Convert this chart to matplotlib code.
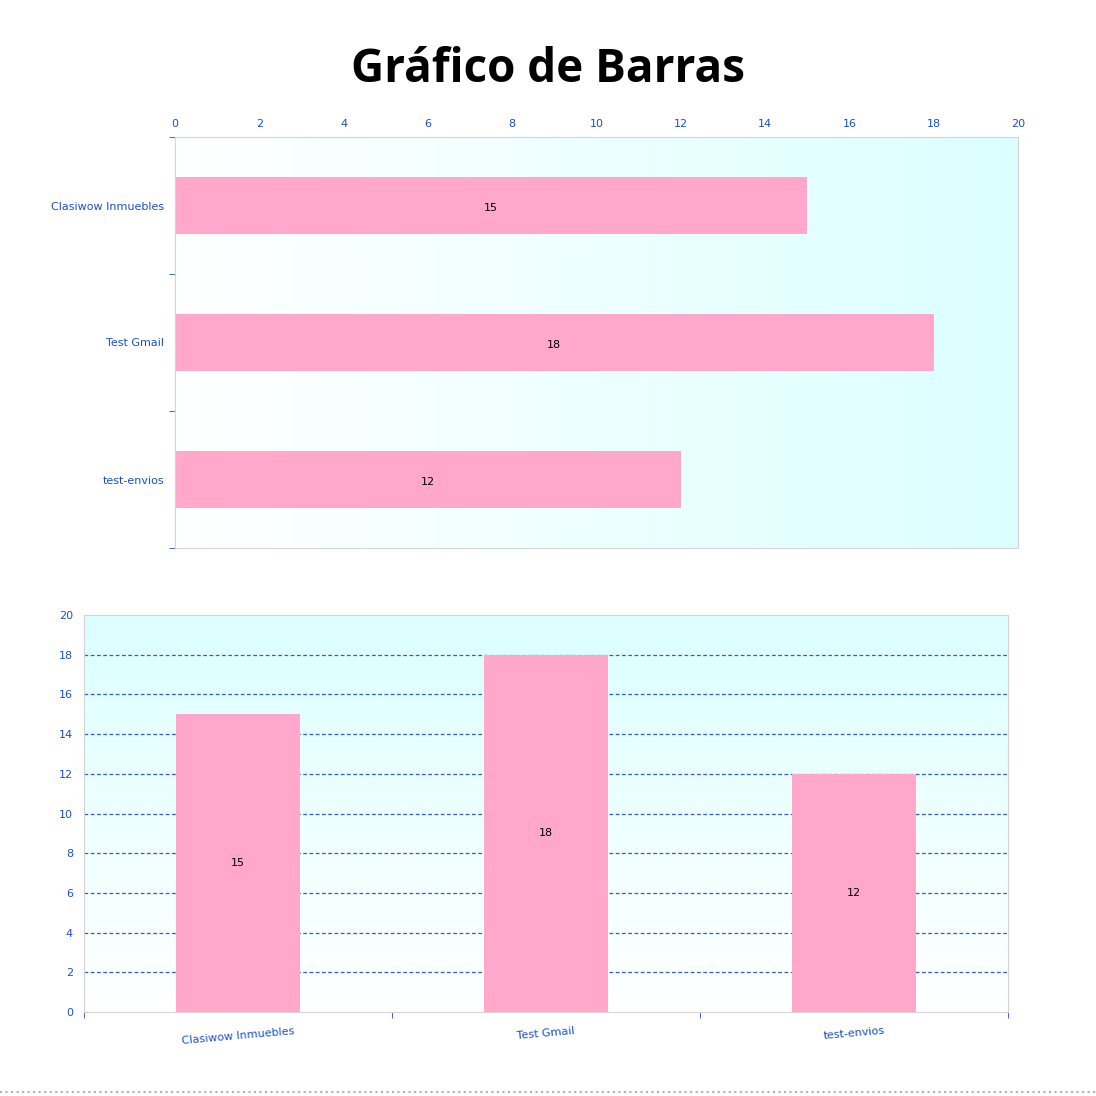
import numpy as np
import matplotlib
matplotlib.use("Agg")
from matplotlib import pyplot as plt

categories = ["Clasiwow Inmuebles", "Test Gmail", "test-envios"]
values = [15, 18, 12]
value_ticks = [0, 2, 4, 6, 8, 10, 12, 14, 16, 18, 20]

bar_color = "#ffa8cc"
tick_color = "#1a4fd0"
spine_color = "#d4d4d4"


def gradient(ax, horizontal):
    # white -> light cyan background
    t = np.linspace(0, 1, 256)
    white = np.array([1.0, 1.0, 1.0])
    cyan = np.array([0.86, 1.0, 1.0])
    if horizontal:
        img = (white + (cyan - white) * t[:, None])[None, :, :]
    else:
        img = (white + (cyan - white) * t[::-1, None])[:, None, :]
    ax.imshow(img, extent=[0, 1, 0, 1], transform=ax.transAxes,
              aspect="auto", zorder=0)


fig = plt.figure(figsize=(10.96, 10.96), dpi=100)
fig.text(0.5, 0.937, "Gráfico de Barras", ha="center", va="center",
         fontsize=33, fontweight="bold", family="Open Sans")

# horizontal chart
ax1 = fig.add_axes([175 / 1096, 0.5, 843 / 1096, 411 / 1096])
gradient(ax1, True)
ypos = np.arange(len(categories))
ax1.barh(ypos, values, height=0.41, color=bar_color, zorder=2)
for y, v in zip(ypos, values):
    ax1.text(v / 2, y + 0.02, str(v), ha="center", va="center", fontsize=8,
             color="black", zorder=3)
ax1.set_xlim(0, 20)
ax1.set_ylim(len(categories) - 0.5, -0.5)
ax1.set_xticks(value_ticks)
ax1.xaxis.tick_top()
ax1.tick_params(axis="x", length=0, pad=6, labelsize=8, labelcolor=tick_color)
ax1.set_yticks(ypos)
ax1.set_yticklabels(categories)
ax1.set_yticks(np.arange(len(categories) + 1) - 0.5, minor=True)
ax1.tick_params(axis="y", which="major", length=0, pad=8, labelsize=8,
                labelcolor=tick_color)
ax1.tick_params(axis="y", which="minor", length=4, color=tick_color)
for s in ax1.spines.values():
    s.set_color(spine_color)

# vertical chart
ax2 = fig.add_axes([84 / 1096, 84 / 1096, 924 / 1096, 397 / 1096])
gradient(ax2, False)
xpos = np.arange(len(categories))
ax2.hlines(value_ticks[1:-1], -0.5, len(categories) - 0.5, colors="#3358d8",
           linestyles=(0, (3, 2)), linewidth=0.9, zorder=1)
ax2.bar(xpos, values, width=0.4, color=bar_color, zorder=2)
for x, v in zip(xpos, values):
    ax2.text(x, v / 2, str(v), ha="center", va="center", fontsize=8,
             color="black", zorder=3)
ax2.set_ylim(0, 20)
ax2.set_xlim(-0.5, len(categories) - 0.5)
ax2.set_yticks(value_ticks)
ax2.tick_params(axis="y", length=0, pad=8, labelsize=8, labelcolor=tick_color)
ax2.set_xticks(xpos)
ax2.set_xticklabels(categories, rotation=5)
ax2.set_xticks(np.arange(len(categories) + 1) - 0.5, minor=True)
ax2.tick_params(axis="x", which="major", length=0, pad=10, labelsize=8,
                labelcolor=tick_color)
ax2.tick_params(axis="x", which="minor", length=4, color=tick_color)
for s in ax2.spines.values():
    s.set_color(spine_color)

fig.add_artist(plt.Line2D([0, 1], [4 / 1096, 4 / 1096], color="#b0b0b0",
                          linestyle=":", linewidth=1.5))

fig.savefig("out.png", dpi=100, facecolor="white")
